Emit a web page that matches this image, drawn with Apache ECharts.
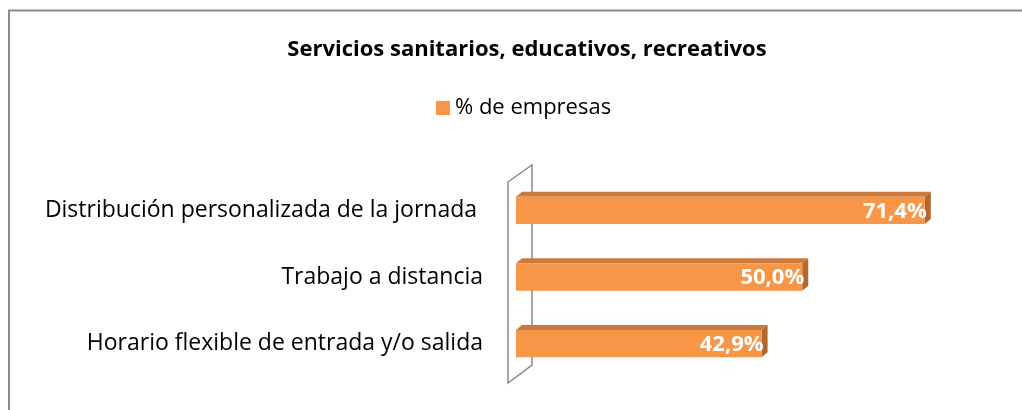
<!DOCTYPE html>
<html>
<head>
<meta charset="utf-8">
<script src="https://cdn.jsdelivr.net/npm/echarts@6/dist/echarts.min.js"></script>
<style>
  html, body { margin: 0; padding: 0; background: #fff; }
  #grafico { width: 1022px; height: 410px; }
</style>
</head>
<body>
<div id="grafico"></div>
<script>
// datos
const categorias = [
  'Distribución personalizada de la jornada ',
  'Trabajo a distancia',
  'Horario flexible de entrada y/o salida'
];
const valores = [71.4, 50.0, 42.9];
const serieNombre = '% de empresas';
const titulo = 'Servicios sanitarios, educativos, recreativos';

const FUENTE = '"Open Sans", "Noto Sans", sans-serif';
const FRENTE = '#F79646', TAPA = '#C97A3C', LADO = '#B3672D';
const BORDE = '#8c8c8c';

// barra "3D": cara frontal + tapa + lateral, todo desde api.coord
function barra3d(params, api) {
  const v = api.value(0), c = api.value(1);
  const p0 = api.coord([0, c]);
  const p1 = api.coord([v, c]);
  const h = api.size([0, 1])[1] * 0.41;
  const dx = 6, dy = 5;
  const y0 = p0[1] - h / 2;
  return {
    type: 'group',
    children: [
      { type: 'polygon',
        shape: { points: [[p0[0], y0], [p0[0] + dx, y0 - dy], [p1[0] + dx, y0 - dy], [p1[0], y0]] },
        style: { fill: TAPA } },
      { type: 'polygon',
        shape: { points: [[p1[0], y0], [p1[0] + dx, y0 - dy], [p1[0] + dx, y0 - dy + h], [p1[0], y0 + h]] },
        style: { fill: LADO } },
      { type: 'rect',
        shape: { x: p0[0], y: y0, width: p1[0] - p0[0], height: h },
        style: { fill: FRENTE } },
      { type: 'text',
        style: { text: v.toFixed(1).replace('.', ',') + '%', x: p1[0] + 2, y: p0[1] + 1,
                 align: 'right', verticalAlign: 'middle', fill: '#fff',
                 font: 'bold 22px ' + FUENTE } }
    ]
  };
}

const chart = echarts.init(document.getElementById('grafico'), null, { renderer: 'canvas' });
chart.setOption({
  backgroundColor: '#fff',
  animation: false,
  title: {
    text: titulo, left: 522, top: 34, textAlign: 'center',
    textStyle: { color: '#000', fontSize: 22, fontWeight: 'bold', fontFamily: FUENTE }
  },
  legend: {
    data: [serieNombre], left: 431, top: 92,
    icon: 'rect', itemWidth: 14, itemHeight: 14, itemGap: 6,
    textStyle: { color: '#000', fontSize: 22, fontFamily: FUENTE }
  },
  grid: { left: 516, right: 48, top: 177, bottom: 33 },
  xAxis: { type: 'value', min: 0, max: 80, show: false },
  yAxis: {
    type: 'category', data: categorias, inverse: true,
    axisLine: { show: false }, axisTick: { show: false },
    axisLabel: { color: '#000', fontSize: 23, fontFamily: FUENTE, margin: 33 }
  },
  graphic: [
    // marco del área del gráfico
    { type: 'polyline', z: -10,
      shape: { points: [[9, 420], [9, 10.5], [1030, 10.5]] },
      style: { stroke: BORDE, lineWidth: 2, fill: null } },
    // pared lateral del eje
    { type: 'polygon', z: -5,
      shape: { points: [[508, 182], [532, 165], [532, 365], [508, 383]] },
      style: { stroke: '#8a8a8a', lineWidth: 1.5, fill: null } }
  ],
  series: [{
    name: serieNombre, type: 'custom', renderItem: barra3d,
    itemStyle: { color: FRENTE },
    encode: { x: 0, y: 1 },
    data: valores.map((v, i) => [v, i])
  }]
});
</script>
</body>
</html>
